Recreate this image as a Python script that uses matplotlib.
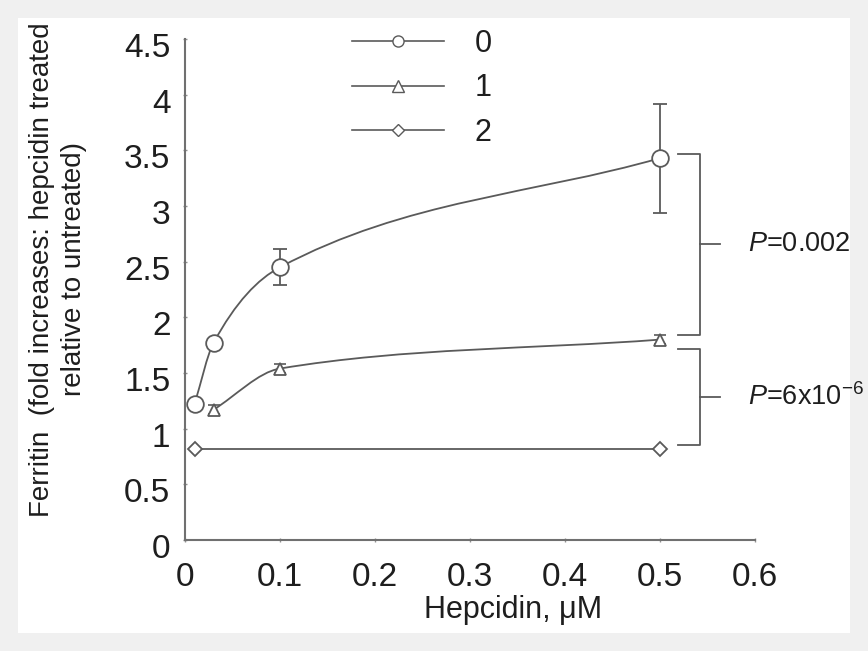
import numpy as np
import matplotlib
matplotlib.use('Agg')
import matplotlib.pyplot as plt
from matplotlib.path import Path
from matplotlib.patches import PathPatch, Rectangle
from matplotlib.lines import Line2D
from matplotlib.transforms import ScaledTranslation

plt.rcParams['font.family'] = ['Liberation Sans', 'DejaVu Sans']
plt.rcParams['mathtext.fontset'] = 'custom'
plt.rcParams['mathtext.rm'] = 'Liberation Sans'
plt.rcParams['mathtext.it'] = 'Liberation Sans:italic'

# Daten
x_s0 = [0.01, 0.03, 0.1, 0.5]
y_s0 = [1.22, 1.77, 2.45, 3.43]
err_s0 = [0.0, 0.0, 0.16, 0.49]

x_s1 = [0.03, 0.1, 0.5]
y_s1 = [1.17, 1.54, 1.80]
err_s1 = [0.04, 0.04, 0.04]

x_s2 = [0.01, 0.5]
y_s2 = [0.82, 0.82]

labels = ['0', '1', '2']
p_texts = [r'$P$=0.002', r'$P$=6x10$^{-6}$']

x_ticks = [0, 0.1, 0.2, 0.3, 0.4, 0.5, 0.6]
y_ticks = [0, 0.5, 1, 1.5, 2, 2.5, 3, 3.5, 4, 4.5]

grau = '#5a5a5a'
text_farbe = '#1e1e1e'


def glatte_kurve(xs, ys):
    # kubische Hermite-Kurve als Bezier-Pfad (nur Darstellung der Linie)
    xs = np.asarray(xs, float)
    ys = np.asarray(ys, float)
    h = np.diff(xs)
    d = np.diff(ys) / h
    m = np.empty(len(xs))
    m[0] = d[0]
    m[-1] = d[-1]
    for k in range(1, len(xs) - 1):
        w1 = 2 * h[k] + h[k - 1]
        w2 = h[k] + 2 * h[k - 1]
        m[k] = (w1 + w2) / (w1 / d[k - 1] + w2 / d[k])
    verts = [(xs[0], ys[0])]
    codes = [Path.MOVETO]
    for k in range(len(xs) - 1):
        verts.append((xs[k] + h[k] / 3, ys[k] + m[k] * h[k] / 3))
        verts.append((xs[k + 1] - h[k] / 3, ys[k + 1] - m[k + 1] * h[k] / 3))
        verts.append((xs[k + 1], ys[k + 1]))
        codes += [Path.CURVE4] * 3
    return Path(verts, codes)


fig = plt.figure(figsize=(8.68, 6.51), dpi=100, facecolor='#f0f0f0')
fig.patches.append(Rectangle((18 / 868, 18 / 651), 1 - 36 / 868, 1 - 36 / 651,
                             transform=fig.transFigure, facecolor='white',
                             edgecolor='none', zorder=-10))
ax = fig.add_axes([185 / 868, 1 - 540 / 651, 570 / 868, 501 / 651])
ax.set_facecolor('none')

# Linien
for xs, ys in [(x_s0, y_s0), (x_s1, y_s1)]:
    ax.add_patch(PathPatch(glatte_kurve(xs, ys), facecolor='none', edgecolor=grau, lw=1.3, zorder=2))
ax.plot(x_s2, y_s2, color=grau, lw=1.3, zorder=2)

# Fehlerbalken
ax.errorbar(x_s0[2:], y_s0[2:], yerr=err_s0[2:], fmt='none', ecolor=grau, elinewidth=1.3,
            capsize=5, capthick=1.3, zorder=2)
ax.errorbar(x_s1, y_s1, yerr=err_s1, fmt='none', ecolor=grau, elinewidth=1.2,
            capsize=4, capthick=1.2, zorder=2)

# Punkte
ax.plot(x_s0, y_s0, 'o', ms=12, mfc='white', mec=grau, mew=1.3, zorder=3)
ax.plot(x_s1, y_s1, '^', ms=9, mfc='white', mec=grau, mew=1.3, zorder=3)
ax.plot(x_s2, y_s2, 'D', ms=7, mfc='white', mec=grau, mew=1.3, zorder=3)

# Klammern mit P-Werten
x_a, x_b, x_c = 0.519, 0.542, 0.563
paare = [(y_s0[-1] + 0.04, y_s1[-1] + 0.04), (y_s1[-1] - 0.08, y_s2[-1] + 0.03)]
for (oben, unten), txt in zip(paare, p_texts):
    ax.plot([x_a, x_b, x_b, x_a], [oben, oben, unten, unten], color=grau, lw=1.3, clip_on=False)
    mitte = (oben + unten) / 2
    ax.plot([x_b, x_c], [mitte, mitte], color=grau, lw=1.3, clip_on=False)
    ax.text(0.593, mitte, txt, fontsize=19.5, color=text_farbe, va='center', ha='left')

# Legende
handles = [
    Line2D([], [], color=grau, lw=1.2, marker='o', ms=8, mfc='white', mec=grau),
    Line2D([], [], color=grau, lw=1.2, marker='^', ms=8, mfc='white', mec=grau),
    Line2D([], [], color=grau, lw=1.2, marker='D', ms=6, mfc='white', mec=grau),
]
ax.legend(handles, labels, loc='upper left', bbox_to_anchor=(0.245, 1.075), frameon=False,
          fontsize=22, handlelength=3.0, handletextpad=1.0, labelspacing=0.47,
          labelcolor=text_farbe)

ax.set_xlim(0, 0.6)
ax.set_ylim(0, 4.5)
ax.set_xticks(x_ticks)
ax.set_xticklabels([f'{t:g}' for t in x_ticks])
ax.set_yticks(y_ticks)
ax.set_yticklabels([f'{t:g}' for t in y_ticks])
for s in ['top', 'right']:
    ax.spines[s].set_visible(False)
for s in ['left', 'bottom']:
    ax.spines[s].set_color('#707070')
    ax.spines[s].set_linewidth(1.5)
ax.tick_params(axis='both', length=3, width=1, color='#909090', direction='inout',
               labelsize=24, labelcolor=text_farbe)
ax.tick_params(axis='x', pad=14)
ax.tick_params(axis='y', pad=9)
# Beschriftungen der y-Achse sitzen im Original etwas tiefer
versatz = ScaledTranslation(0, -6 / 100, fig.dpi_scale_trans)
for lab in ax.get_yticklabels():
    lab.set_transform(lab.get_transform() + versatz)

ax.set_xlabel('Hepcidin, μM', fontsize=22, color=text_farbe, labelpad=2, x=0.575)
ax.set_ylabel('Ferritin  (fold increases: hepcidin treated\nrelative to untreated)',
              fontsize=20, color=text_farbe, linespacing=1.3)
ax.yaxis.set_label_coords(-0.172, 0.54)

plt.savefig('out.png', dpi=100, facecolor=fig.get_facecolor())
